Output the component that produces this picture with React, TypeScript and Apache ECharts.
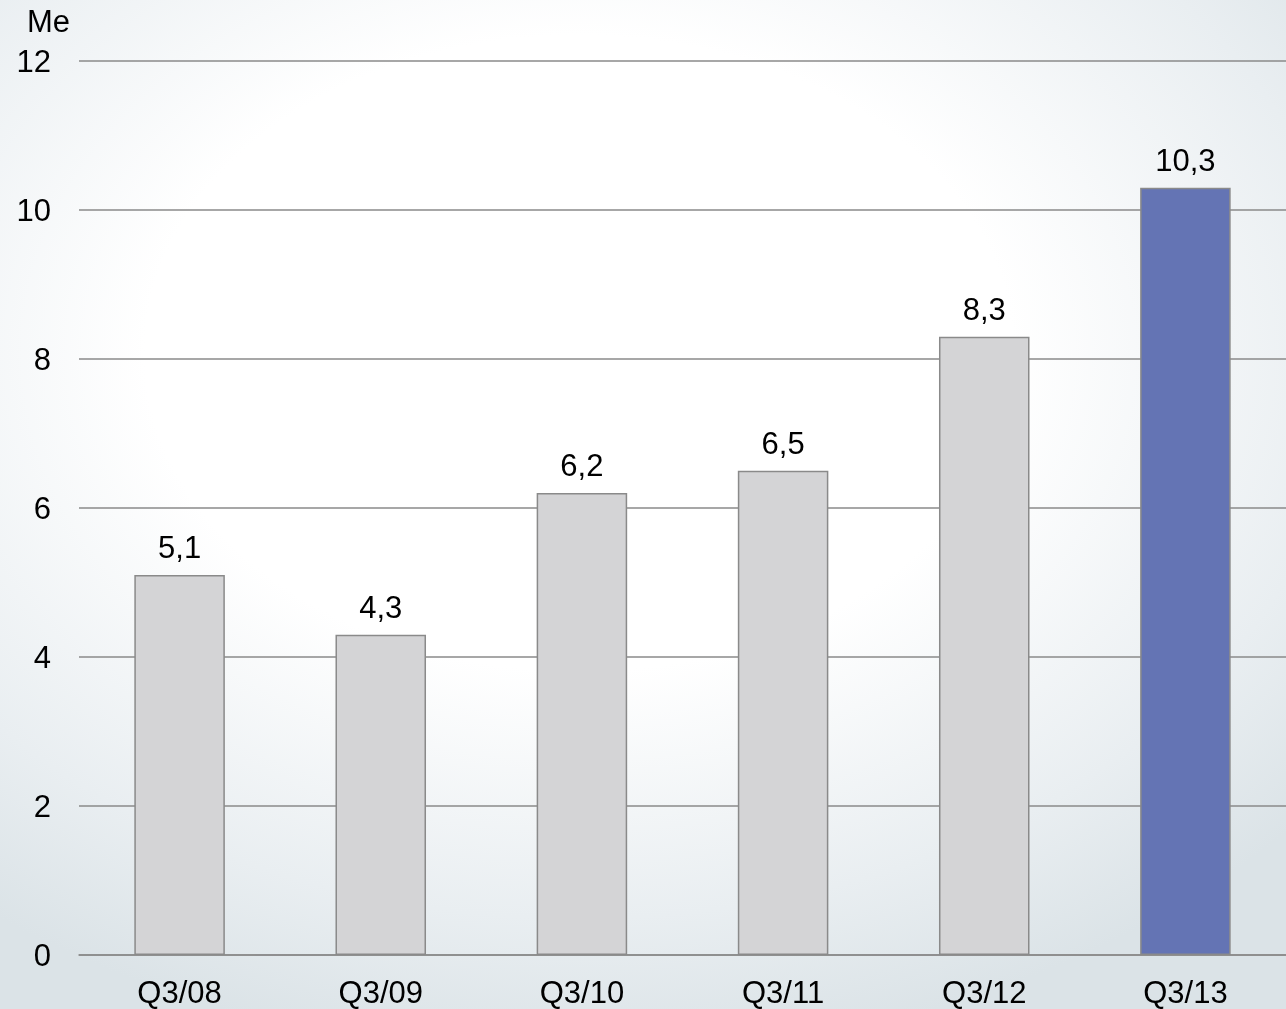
import React, { useEffect, useRef } from "react";
import * as echarts from "echarts";

const categories = ["Q3/08", "Q3/09", "Q3/10", "Q3/11", "Q3/12", "Q3/13"];
const values = [5.1, 4.3, 6.2, 6.5, 8.3, 10.3];
const highlightIndex = 5;
const unitLabel = "Me";
const yMin = 0;
const yMax = 12;
const yInterval = 2;

const FONT = "'Liberation Sans', Arial, sans-serif";

export default function App() {
  const ref = useRef<HTMLDivElement>(null);
  useEffect(() => {
    if (!ref.current) return;
    const chart = echarts.init(ref.current, null, { renderer: "svg" });
    chart.setOption({
      animation: false,
      backgroundColor: "transparent",
      grid: { left: 79, right: 0, top: 61, bottom: 54, containLabel: false },
      graphic: [
        {
          type: "text",
          left: 27,
          top: 6,
          style: { text: unitLabel, font: `31px ${FONT}`, fill: "#000" },
        },
      ],
      xAxis: {
        type: "category",
        data: categories,
        axisTick: { show: false },
        axisLine: { show: true, lineStyle: { color: "#8a8a8a", width: 1.5 } },
        axisLabel: { color: "#000", fontSize: 31, fontFamily: FONT, margin: 22 },
      },
      yAxis: {
        type: "value",
        min: yMin,
        max: yMax,
        interval: yInterval,
        axisLine: { show: false },
        axisTick: { show: false },
        axisLabel: { color: "#000", fontSize: 31, fontFamily: FONT, margin: 28 },
        splitLine: { show: true, lineStyle: { color: "#8a8a8a", width: 1.5 } },
      },
      series: [
        {
          type: "bar",
          barWidth: "45%",
          data: values.map((v, i) => ({
            value: v,
            itemStyle: {
              color: i === highlightIndex ? "#6474b4" : "#d4d4d6",
              borderColor: "#8a8a8a",
              borderWidth: 1.5,
            },
          })),
          label: {
            show: true,
            position: "top",
            distance: 12,
            color: "#000",
            fontSize: 31,
            fontFamily: FONT,
            formatter: (p: any) => String(p.value).replace(".", ","),
          },
        },
      ],
    });
    return () => chart.dispose();
  }, []);
  return (
    <div
      style={{
        position: "fixed",
        left: 0,
        top: 0,
        width: 1286,
        height: 1009,
        background:
          "radial-gradient(ellipse 75% 70% at 45% 35%, #ffffff 45%, #e9eef1 80%, #dbe3e7 100%)",
      }}
    >
      <div ref={ref} style={{ width: 1286, height: 1009 }} />
    </div>
  );
}
